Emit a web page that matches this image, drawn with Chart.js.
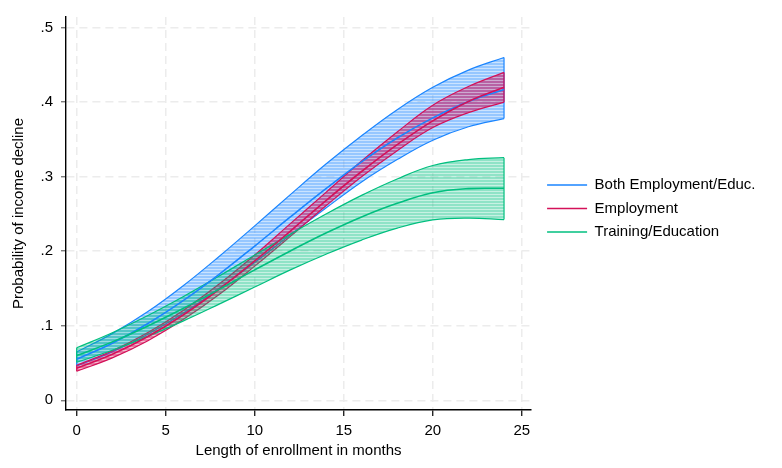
<!DOCTYPE html>
<html>
<head>
<meta charset="utf-8">
<script src="https://cdn.jsdelivr.net/npm/chart.js@4"></script>
<style>
  html, body { margin: 0; padding: 0; background: #fff; }
  #wrap { width: 782px; height: 468px; }
</style>
</head>
<body>
<div id="wrap"><canvas id="probChart"></canvas></div>
<script>
const months = [0, 2, 4, 6, 8, 10, 12, 14, 16, 18, 20, 22, 24];

// predicted probability and its 95% band, by program type
const bothMid = [0.055, 0.0765, 0.103, 0.134, 0.169, 0.207, 0.246, 0.284, 0.320, 0.352, 0.379, 0.401, 0.417];
const bothHi  = [0.065, 0.0895, 0.119, 0.154, 0.193, 0.234, 0.276, 0.317, 0.355, 0.390, 0.420, 0.443, 0.460];
const bothLo  = [0.046, 0.065, 0.0887, 0.117, 0.150, 0.185, 0.222, 0.258, 0.293, 0.323, 0.349, 0.367, 0.378];

const empMid = [0.043, 0.0617, 0.0856, 0.1148, 0.149, 0.187, 0.227, 0.268, 0.307, 0.343, 0.375, 0.401, 0.420];
const empHi  = [0.047, 0.0664, 0.091, 0.121, 0.156, 0.195, 0.237, 0.279, 0.321, 0.360, 0.396, 0.421, 0.440];
const empLo  = [0.039, 0.0569, 0.080, 0.1086, 0.142, 0.180, 0.220, 0.261, 0.300, 0.335, 0.366, 0.386, 0.400];

const trainMid = [0.060, 0.0784, 0.0998, 0.1235, 0.1488, 0.175, 0.2004, 0.2244, 0.246, 0.2643, 0.2785, 0.284, 0.2845];
const trainHi  = [0.0705, 0.0907, 0.1138, 0.1393, 0.1667, 0.195, 0.223, 0.250, 0.275, 0.297, 0.315, 0.323, 0.3255];
const trainLo  = [0.051, 0.0671, 0.0858, 0.1066, 0.129, 0.152, 0.175, 0.196, 0.215, 0.231, 0.242, 0.2445, 0.2425];

const xTicks = [0, 5, 10, 15, 20, 25];
const yTicks = [0, 0.1, 0.2, 0.3, 0.4, 0.5];

const BLUE = '26,133,255';
const RED = '212,17,89';
const GREEN = '0,191,127';
const FONT = { family: 'Liberation Sans, Arial, sans-serif', size: 15 };

// thin horizontal-line shading for the confidence areas
function hatch(rgb, a) {
  const c = document.createElement('canvas');
  c.width = 4;
  c.height = 3;
  const g = c.getContext('2d');
  g.fillStyle = `rgba(${rgb},${a})`;
  g.fillRect(0, 0, 4, 2);
  g.fillStyle = `rgba(${rgb},${a * 0.5})`;
  g.fillRect(0, 2, 4, 1);
  return g.createPattern(c, 'repeat');
}

const pts = (ys) => months.map((m, i) => ({ x: m, y: ys[i] }));
const last = months.length - 1;

// upper and lower bound with the area between, closed at both ends
function band(label, hi, lo, rgb, alpha, order) {
  const edge = (i) => ({
    label: label + ' edge', order: order - 1, tension: 0,
    data: [{ x: months[i], y: lo[i] }, { x: months[i], y: hi[i] }],
    borderColor: `rgb(${rgb})`, borderWidth: 1.2, fill: false,
  });
  return [
    {
      label: label + ' hi', data: pts(hi), order,
      borderColor: `rgb(${rgb})`, borderWidth: 1.2,
      backgroundColor: hatch(rgb, alpha), fill: '+1',
    },
    {
      label: label + ' lo', data: pts(lo), order: order - 1,
      borderColor: `rgb(${rgb})`, borderWidth: 1.2, fill: false,
    },
    edge(0),
    edge(last),
  ];
}

function line(label, mid, rgb, order) {
  return {
    label, data: pts(mid), order,
    borderColor: `rgb(${rgb})`, borderWidth: 1.6, fill: false,
  };
}

// nudge the legend away from the plot region
const legendGap = {
  id: 'legendGap',
  afterLayout(chart) {
    const lg = chart.legend;
    lg.left += 7.5;
    lg.right += 7.5;
    lg.top -= 5;
    lg.bottom -= 5;
  },
};

new Chart(document.getElementById('probChart'), {
  type: 'line',
  data: {
    datasets: [
      ...band('Both', bothHi, bothLo, BLUE, 0.46, 60),
      ...band('Emp', empHi, empLo, RED, 0.55, 50),
      ...band('Train', trainHi, trainLo, GREEN, 0.44, 40),
      line('Both Employment/Educ.', bothMid, BLUE, 3),
      line('Employment', empMid, RED, 2),
      line('Training/Education', trainMid, GREEN, 1),
    ],
  },
  plugins: [legendGap],
  options: {
    responsive: true,
    maintainAspectRatio: false,
    animation: false,
    layout: { padding: { top: 4, right: 24, left: 0, bottom: 0 } },
    elements: {
      point: { radius: 0, hoverRadius: 0 },
      line: { tension: 0.4 },
    },
    plugins: {
      tooltip: { enabled: false },
      legend: {
        position: 'right',
        fullSize: false,
        reverse: true,
        maxWidth: 260,
        labels: {
          filter: (item) => !/ (hi|lo|edge)$/.test(item.text),
          usePointStyle: true,
          pointStyle: 'line',
          pointStyleWidth: 40,
          padding: 8.5,
          color: '#000',
          font: FONT,
        },
      },
    },
    scales: {
      x: {
        type: 'linear',
        min: -0.6,
        max: 25.52,
        afterBuildTicks: (s) => { s.ticks = xTicks.map((v) => ({ value: v })); },
        afterFit: (s) => { s.height = 58; },
        grid: { color: '#ececec', lineWidth: 1.5, tickColor: '#000', tickLength: 6, tickWidth: 1.2 },
        border: { display: true, color: '#000', width: 1.4, dash: [8, 5] },
        ticks: { color: '#000', padding: 6, maxRotation: 0, font: FONT },
        title: {
          display: true, text: 'Length of enrollment in months', color: '#000',
          padding: { top: 0, bottom: 8 }, font: FONT,
        },
      },
      y: {
        min: -0.013,
        max: 0.5143,
        afterBuildTicks: (s) => { s.ticks = yTicks.map((v) => ({ value: v })); },
        afterFit: (s) => { s.width = 66; },
        grid: { color: '#ececec', lineWidth: 1.5, tickColor: '#666', tickLength: 5, tickWidth: 1.2 },
        border: { display: true, color: '#000', width: 1.4, dash: [8, 5] },
        ticks: {
          color: '#000', padding: 8, font: FONT,
          callback: (v) => (v === 0 ? '0' : v.toFixed(1).replace(/^0/, '')),
        },
        title: {
          display: true, text: 'Probability of income decline', color: '#000',
          padding: { top: 10, bottom: 0 }, font: FONT,
        },
      },
    },
  },
});
</script>
</body>
</html>
